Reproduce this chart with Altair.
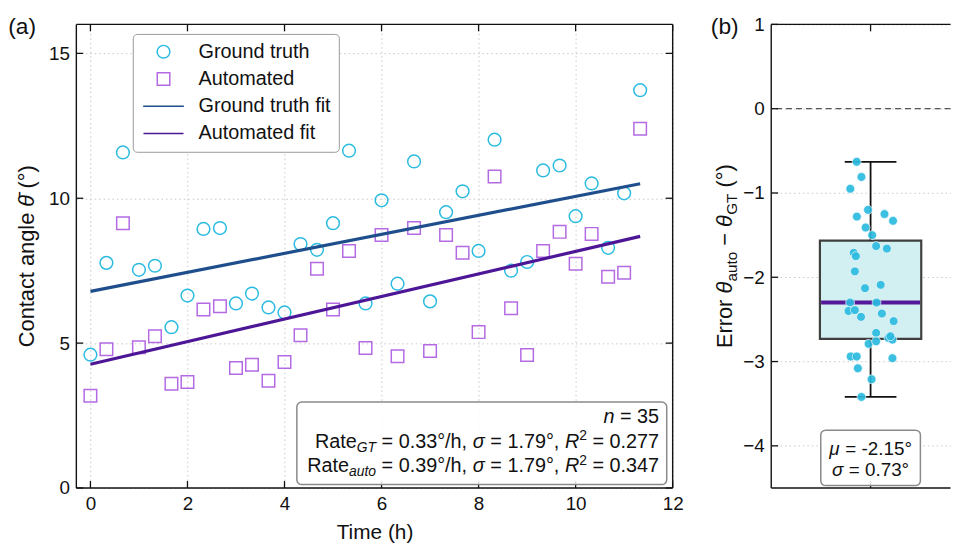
import altair as alt
import pandas as pd

FONT = "Liberation Sans"
INK = "#111111"
GRID = "#c8c8c8"

# ---------------- data ----------------
TIME_H = [0.0, 0.33, 0.67, 1.0, 1.33, 1.67, 2.0, 2.33, 2.67, 3.0, 3.33, 3.67,
          4.0, 4.33, 4.67, 5.0, 5.33, 5.67, 6.0, 6.33, 6.67, 7.0, 7.33, 7.67,
          8.0, 8.33, 8.67, 9.0, 9.33, 9.67, 10.0, 10.33, 10.67, 11.0, 11.33]
GROUND_TRUTH = [4.60, 7.77, 11.58, 7.53, 7.67, 5.55, 6.64, 8.94, 8.97, 6.37, 6.71, 6.23,
                6.06, 8.42, 8.22, 9.14, 11.64, 6.37, 9.93, 7.05, 11.27, 6.44, 9.52, 10.24,
                8.18, 12.02, 7.50, 7.80, 10.96, 11.13, 9.38, 10.51, 8.29, 10.17, 13.73]
AUTOMATED = [3.18, 4.79, 9.14, 4.86, 5.24, 3.60, 3.66, 6.16, 6.27, 4.14, 4.25, 3.70,
             4.35, 5.27, 7.57, 6.16, 8.18, 4.83, 8.73, 4.55, 8.97, 4.73, 8.73, 8.12,
             5.38, 10.75, 6.20, 4.59, 8.18, 8.84, 7.74, 8.77, 7.29, 7.43, 12.40]
ERRORS = [-0.63, -0.81, -0.95, -1.20, -1.28, -1.25, -1.33, -1.41, -1.50, -1.63, -1.66, -1.71,
          -1.75, -1.93, -2.13, -2.09, -2.30, -2.30, -2.40, -2.39, -2.47, -2.43, -2.52, -2.66,
          -2.72, -2.74, -2.79, -2.76, -2.94, -2.94, -2.96, -3.08, -3.21, -3.42, -2.70]
JITTER = [-0.070, -0.046, -0.102, -0.013, -0.069, 0.070, 0.113, -0.025, 0.008, 0.028, 0.082, -0.085,
          -0.074, -0.079, -0.028, 0.051, -0.103, 0.030, -0.111, -0.079, -0.048, 0.057, 0.116, 0.028,
          0.090, 0.110, -0.010, 0.028, -0.100, -0.070, 0.110, -0.064, 0.005, -0.046, 0.100]

SERIES = ["Ground truth", "Automated", "Ground truth fit", "Automated fit"]
COLORS = ["#2bbbe0", "#b36ae3", "#1f4e8c", "#4d1696"]
LINE_SYMBOL = "M-3.3,0H3.3"
SHAPES = ["circle", "square", LINE_SYMBOL, LINE_SYMBOL]
SYMBOL_SIZES = [165, 150, 165, 165]
SYMBOL_STROKES = [1.5, 1.5, 3.2, 3.2]
XTICKS_A = [0, 2, 4, 6, 8, 10, 12]
YTICKS_A = [0, 5, 10, 15]
YTICKS_B = [-4, -3, -2, -1, 0, 1]
XTICKS_B = [0]
ZERO_REF = [0]

N_TEXT = "35"
RATE_GT, SIG_GT, R2_GT = "0.33", "1.79", "0.277"
RATE_AU, SIG_AU, R2_AU = "0.39", "1.79", "0.347"
MU_ERR, SIG_ERR = "-2.15", "0.73"

# ---------------- sizes ----------------
W_A, H_A = 602, 468
W_B, H_B = 181, 468

ONE = pd.DataFrame({"k": [0]})

ADV = {" ": 0.278, "(": 0.333, ")": 0.333, ",": 0.278, "-": 0.333, ".": 0.278, "/": 0.278,
       "=": 0.584, "°": 0.400, "−": 0.584, "\u0304": 0.0,
       "C": 0.722, "E": 0.667, "G": 0.778, "R": 0.722, "T": 0.611,
       "a": 0.556, "b": 0.556, "c": 0.500, "e": 0.556, "g": 0.556, "h": 0.556, "l": 0.222,
       "n": 0.556, "o": 0.556, "r": 0.333, "t": 0.278, "u": 0.556,
       "θ": 0.556, "σ": 0.615, "μ": 0.576}
for _d in "0123456789":
    ADV[_d] = 0.556


def rich(pieces, x, y, align="left", angle=0):
    widths = [sum(ADV.get(c, 0.556) for c in t) * s for t, s, it, sh in pieces]
    total = sum(widths)
    cum = {"left": 0.0, "center": -total / 2.0, "right": -total}[align]
    out = []
    for (t, s, it, sh), w in zip(pieces, widths):
        lead = len(t) - len(t.lstrip(" "))
        lead_w = ADV[" "] * s * lead
        out.append(
            alt.Chart(ONE).mark_text(
                align="left", baseline="alphabetic", dx=round(cum + lead_w, 2), dy=sh,
                angle=angle, font=FONT, fontSize=s,
                fontStyle="italic" if it else "normal", color=INK,
            ).encode(x=x, y=y, text=alt.value(t.strip(" ")))
        )
        cum += w
    return out


def frame_rule(x, x2=None, y=None, y2=None):
    enc = {"x": alt.value(x), "y": alt.value(y)}
    if x2 is not None:
        enc["x2"] = alt.value(x2)
    if y2 is not None:
        enc["y2"] = alt.value(y2)
    return alt.Chart(ONE).mark_rule(color=INK, strokeWidth=1.4).encode(**enc)


def axis(values, title=None):
    kw = dict(values=values, format="d", ticks=False, tickSize=0, domain=False, labelPadding=7,
              labelFont=FONT, labelFontSize=19, labelColor=INK, labelFlush=False,
              grid=True, gridColor=GRID, gridDash=[1.5, 3], gridWidth=1)
    if title is None:
        kw["title"] = None
    else:
        kw.update(title=title, titleFont=FONT, titleFontSize=21, titleFontWeight="normal",
                  titleColor=INK, titlePadding=8)
    return alt.Axis(**kw)


TL = 7

# ================= panel (a) =================
pts = pd.DataFrame({
    "t": TIME_H + TIME_H,
    "value": GROUND_TRUTH + AUTOMATED,
    "series": [SERIES[0]] * len(TIME_H) + [SERIES[1]] * len(TIME_H),
})

xs_a = alt.Scale(domain=[-0.29, 12], nice=False, zero=False)
ys_a = alt.Scale(domain=[0, 16], nice=False, zero=False)
color_scale = alt.Scale(domain=SERIES, range=COLORS)
shape_scale = alt.Scale(domain=SERIES, range=SHAPES)
size_scale = alt.Scale(domain=SERIES, range=SYMBOL_SIZES)
sw_scale = alt.Scale(domain=SERIES, range=SYMBOL_STROKES)

legend = alt.Legend(
    title=None, orient="none", legendX=57, legendY=9.6,
    fillColor="white", strokeColor="#9a9a9a", cornerRadius=4, padding=8,
    labelFont=FONT, labelFontSize=20, labelColor=INK, labelOffset=25.3, labelLimit=400,
    rowPadding=7.5, symbolOffset=13,
)

points = alt.Chart(pts).mark_point(filled=False, opacity=1).encode(
    x=alt.X("t:Q", scale=xs_a, axis=axis(XTICKS_A, "Time (h)")),
    y=alt.Y("value:Q", scale=ys_a, axis=axis(YTICKS_A)),
    color=alt.Color("series:N", scale=color_scale, legend=legend),
    shape=alt.Shape("series:N", scale=shape_scale, legend=legend),
    size=alt.Size("series:N", scale=size_scale, legend=legend),
    strokeWidth=alt.StrokeWidth("series:N", scale=sw_scale, legend=legend),
)

fits = alt.Chart(pts).transform_regression(
    "t", "value", groupby=["series"]
).transform_calculate(series="datum.series + ' fit'").mark_line(strokeWidth=3.2).encode(
    x=alt.X("t:Q", scale=xs_a),
    y=alt.Y("value:Q", scale=ys_a),
    color=alt.Color("series:N", scale=color_scale, legend=None),
)

xt_a = pd.DataFrame({"t": XTICKS_A})
yt_a = pd.DataFrame({"value": YTICKS_A})
ticks_a = [
    alt.Chart(xt_a).mark_rule(color=INK, strokeWidth=1.3).encode(
        x=alt.X("t:Q", scale=xs_a), y=alt.value(H_A), y2=alt.value(H_A - TL)),
    alt.Chart(xt_a).mark_rule(color=INK, strokeWidth=1.3).encode(
        x=alt.X("t:Q", scale=xs_a), y=alt.value(0), y2=alt.value(TL)),
    alt.Chart(yt_a).mark_rule(color=INK, strokeWidth=1.3).encode(
        y=alt.Y("value:Q", scale=ys_a), x=alt.value(0), x2=alt.value(TL)),
    alt.Chart(yt_a).mark_rule(color=INK, strokeWidth=1.3).encode(
        y=alt.Y("value:Q", scale=ys_a), x=alt.value(W_A), x2=alt.value(W_A - TL)),
]
frame_a = [
    frame_rule(0, W_A, 0), frame_rule(0, W_A, H_A),
    frame_rule(0, None, 0, H_A), frame_rule(W_A, None, 0, H_A),
]

stat_box = alt.Chart(ONE).mark_rect(
    cornerRadius=5, fill="white", fillOpacity=0.85, stroke="#8a8a8a", strokeWidth=1.5
).encode(x=alt.value(222.6), x2=alt.value(596), y=alt.value(381.3), y2=alt.value(464.6))

RX = 588.3
stat_txt = (
    rich([("n", 20, True, 0), (" = " + N_TEXT, 20, False, 0)],
         alt.value(RX), alt.value(402.3), "right")
    + rich([("Rate", 20, False, 0), ("GT", 14, True, 4), (f" = {RATE_GT}°/h, ", 20, False, 0),
            ("σ", 20, True, 0), (f" = {SIG_GT}°, ", 20, False, 0), ("R", 20, True, 0),
            ("2", 14, False, -8), (f" = {R2_GT}", 20, False, 0)],
           alt.value(RX), alt.value(427.3), "right")
    + rich([("Rate", 20, False, 0), ("auto", 14, True, 4), (f" = {RATE_AU}°/h, ", 20, False, 0),
            ("σ", 20, True, 0), (f" = {SIG_AU}°, ", 20, False, 0), ("R", 20, True, 0),
            ("2", 14, False, -8), (f" = {R2_AU}", 20, False, 0)],
           alt.value(RX), alt.value(452.3), "right")
)

ytitle_a = rich([("Contact angle ", 22, False, 0), ("θ\u0304", 22, True, 0), (" (°)", 22, False, 0)],
                alt.value(-42.7), alt.value(H_A / 2), "center", 270)
label_a = rich([("(a)", 23, False, 0)], alt.value(-68.8), alt.value(10))

panel_a = alt.layer(
    points, fits, *ticks_a, *frame_a, stat_box, *stat_txt, *ytitle_a, *label_a
).properties(width=W_A, height=H_A)

# ================= panel (b) =================
errs = pd.DataFrame({"err": ERRORS, "jit": JITTER})
xs_b = alt.Scale(domain=[-0.5, -0.5 + W_B / 200.6], nice=False, zero=False)
ys_b = alt.Scale(domain=[-4.5, 1], nice=False, zero=False)
NOX = dict(scale=xs_b, axis=None)

BOX_HALF = 0.255
CAP_HALF = 0.13
stats = alt.Chart(errs).transform_aggregate(
    q1="q1(err)", q3="q3(err)", med="median(err)", lo="min(err)", hi="max(err)"
).transform_calculate(
    bl=str(-BOX_HALF), br=str(BOX_HALF), ml=str(-BOX_HALF + 0.006), mr=str(BOX_HALF - 0.006),
    cl=str(-CAP_HALF), cr=str(CAP_HALF), c0="0",
)

strip = alt.Chart(errs).mark_circle(size=80, color="#2bbbe0", opacity=0.92,
                                    stroke="white", strokeWidth=0.7).encode(
    x=alt.X("jit:Q", **NOX),
    y=alt.Y("err:Q", scale=ys_b, axis=axis(YTICKS_B)),
)
zero_line = alt.Chart(pd.DataFrame({"err": ZERO_REF})).mark_rule(
    color="#555555", strokeDash=[6, 4], strokeWidth=1.3
).encode(y=alt.Y("err:Q", scale=ys_b))
box = stats.mark_rect(fill="#d2eff1", stroke="#3f3f3f", strokeWidth=2.2).encode(
    x=alt.X("bl:Q", **NOX), x2="br:Q", y=alt.Y("q1:Q", scale=ys_b), y2="q3:Q",
)
whisk_hi = stats.mark_rule(color=INK, strokeWidth=1.8).encode(
    x=alt.X("c0:Q", **NOX), y=alt.Y("hi:Q", scale=ys_b), y2="q3:Q")
whisk_lo = stats.mark_rule(color=INK, strokeWidth=1.8).encode(
    x=alt.X("c0:Q", **NOX), y=alt.Y("q1:Q", scale=ys_b), y2="lo:Q")
cap_hi = stats.mark_rule(color=INK, strokeWidth=1.8).encode(
    x=alt.X("cl:Q", **NOX), x2="cr:Q", y=alt.Y("hi:Q", scale=ys_b))
cap_lo = stats.mark_rule(color=INK, strokeWidth=1.8).encode(
    x=alt.X("cl:Q", **NOX), x2="cr:Q", y=alt.Y("lo:Q", scale=ys_b))
median = stats.mark_rule(color="#55189a", strokeWidth=4).encode(
    x=alt.X("ml:Q", **NOX), x2="mr:Q", y=alt.Y("med:Q", scale=ys_b))

xt_b = pd.DataFrame({"jit": XTICKS_B})
yt_b = pd.DataFrame({"err": YTICKS_B})
ticks_b = [
    alt.Chart(xt_b).mark_rule(color=INK, strokeWidth=1.3).encode(
        x=alt.X("jit:Q", **NOX), y=alt.value(0), y2=alt.value(TL)),
    alt.Chart(xt_b).mark_rule(color=INK, strokeWidth=1.3).encode(
        x=alt.X("jit:Q", **NOX), y=alt.value(H_B), y2=alt.value(H_B - TL)),
    alt.Chart(yt_b).mark_rule(color=INK, strokeWidth=1.3).encode(
        y=alt.Y("err:Q", scale=ys_b), x=alt.value(0), x2=alt.value(TL)),
]
frame_b = [frame_rule(0, W_B, 0), frame_rule(0, W_B, H_B), frame_rule(0, None, 0, H_B)]

CX_B = 100.3
mu_box = alt.Chart(ONE).mark_rect(
    cornerRadius=5, fill="white", fillOpacity=0.85, stroke="#8a8a8a", strokeWidth=1.5
).encode(x=alt.value(50), x2=alt.value(150.6), y=alt.value(409.6), y2=alt.value(465.6))
mu_txt = (
    rich([("μ", 19, True, 0), (f" = {MU_ERR}°", 19, False, 0)], alt.value(CX_B), alt.value(434.3), "center")
    + rich([("σ", 19, True, 0), (f" = {SIG_ERR}°", 19, False, 0)], alt.value(CX_B), alt.value(455.6), "center")
)

ytitle_b = rich([("Error ", 22, False, 0), ("θ", 22, True, 0), ("auto", 15.4, False, 5),
                 (" − ", 22, False, 0), ("θ", 22, True, 0), ("GT", 15.4, False, 5),
                 (" (°)", 22, False, 0)],
                alt.value(-40), alt.value(H_B / 2), "center", 270)
label_b = rich([("(b)", 23, False, 0)], alt.value(-61), alt.value(10))

panel_b = alt.layer(
    zero_line, box, whisk_hi, whisk_lo, cap_hi, cap_lo, median, strip,
    *ticks_b, *frame_b, mu_box, *mu_txt, *ytitle_b, *label_b
).properties(width=W_B, height=H_B)

chart = alt.hconcat(panel_a, panel_b, spacing=99.5, bounds="flush").resolve_scale(
    color="independent", shape="independent", size="independent", strokeWidth="independent"
).properties(
    padding={"left": 0, "top": 5, "right": 0, "bottom": 0}
).configure_view(stroke=None)

chart.save("out.html", embed_options={"renderer": "svg", "actions": False})
